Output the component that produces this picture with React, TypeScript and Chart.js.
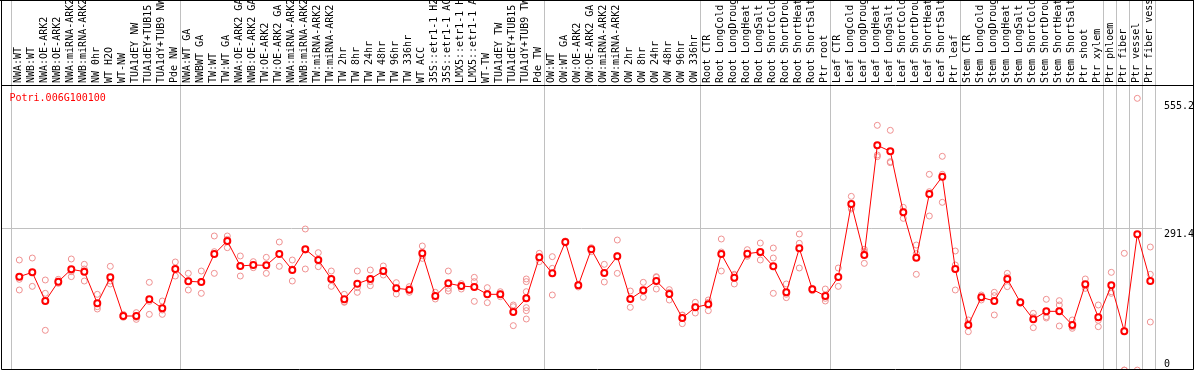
import React, { useEffect, useRef } from "react";
import { Chart, registerables } from "chart.js";

Chart.register(...registerables);

const geneId = "Potri.006G100100";

const categories: string[] = [
  "NWA:WT", "NWB:WT", "NWA:OE-ARK2", "NWB:OE-ARK2", "NWA:miRNA-ARK2", "NWB:miRNA-ARK2",
  "NW 0hr", "WT H2O", "WT-NW", "TUA1dEY NW", "TUA1dEY+TUB15 NW", "TUA1dY+TUB9 NW", "Pde NW",
  "NWA:WT GA", "NWBWT GA", "TW:WT", "TW:WT GA", "NWA:OE-ARK2 GA", "NWB:OE-ARK2 GA",
  "TW:OE-ARK2", "TW:OE-ARK2 GA", "NWA:miRNA-ARK2", "NWB:miRNA-ARK2", "TW:miRNA-ARK2",
  "TW:miRNA-ARK2", "TW 2hr", "TW 8hr", "TW 24hr", "TW 48hr", "TW 96hr", "TW 336hr",
  "WT ACC", "35S::etr1-1 H2O", "35S::etr1-1 ACC", "LMX5::etr1-1 H2O", "LMX5::etr1-1 ACC",
  "WT-TW", "TUA1dEY TW", "TUA1dEY+TUB15 TW", "TUA1dY+TUB9 TW", "Pde TW",
  "OW:WT", "OW:WT GA", "OW:OE-ARK2", "OW:OE-ARK2 GA", "OW:miRNA-ARK2", "OW:miRNA-ARK2",
  "OW 2hr", "OW 8hr", "OW 24hr", "OW 48hr", "OW 96hr", "OW 336hr",
  "Root CTR", "Root LongCold", "Root LongDrought", "Root LongHeat", "Root LongSalt",
  "Root ShortCold", "Root ShortDrought", "Root ShortHeat", "Root ShortSalt", "Ptr root",
  "Leaf CTR", "Leaf LongCold", "Leaf LongDrought", "Leaf LongHeat", "Leaf LongSalt",
  "Leaf ShortCold", "Leaf ShortDrought", "Leaf ShortHeat", "Leaf ShortSalt", "Ptr leaf",
  "Stem CTR", "Stem LongCold", "Stem LongDrought", "Stem LongHeat", "Stem LongSalt",
  "Stem ShortCold", "Stem ShortDrought", "Stem ShortHeat", "Stem ShortSalt", "Ptr shoot",
  "Ptr xylem", "Ptr phloem", "Ptr fiber", "Ptr vessel", "Ptr fiber vessel",
];

const meanValues: number[] = [
  192.6, 201.5, 142.4, 182.3, 207.7, 202.9, 137.6, 191.2, 111.5, 111.5,
  145.9, 127.3, 208.4, 182.9, 181.6, 239.3, 266.1, 214.6, 216.6, 215.9,
  239.3, 206.3, 248.9, 226.9, 187.8, 145.9, 178.1, 187.8, 204.2, 168.5,
  165.8, 240.7, 152.7, 178.8, 173.3, 171.3, 156.2, 156.2, 119.7, 147.9,
  232.4, 199.4, 264.0, 174.7, 248.9, 200.1, 234.5, 146.5, 164.4, 183.6,
  156.8, 107.4, 129.4, 135.5, 239.3, 190.5, 240.0, 243.4, 213.9, 160.3,
  251.0, 166.5, 152.7, 191.9, 342.3, 237.2, 463.2, 450.9, 325.2, 231.7,
  362.9, 398.7, 208.4, 93.0, 150.0, 142.4, 187.8, 139.7, 104.6, 121.1,
  121.1, 93.0, 176.8, 108.8, 174.7, 80.0, 280.0, 183.6,
];

const replicateValues: number[][] = [
  [226.9, 187.1, 165.1], [231.0, 201.5, 172.6], [185.7, 158.2, 82.0], [187.1, 182.3, 178.8],
  [229.0, 202.9, 192.6], [218.0, 208.4, 183.6], [156.2, 130.7, 125.9], [213.9, 183.6, 177.5],
  [114.9, 111.5, 108.8], [118.4, 108.8, 104.6], [180.9, 141.7, 114.9], [142.4, 123.9, 114.9],
  [222.8, 208.4, 193.9], [199.4, 183.6, 165.1], [204.2, 182.3, 158.2], [276.4, 244.1, 199.4],
  [276.4, 269.5, 252.3], [235.2, 214.6, 193.9], [223.5, 216.6, 211.1], [232.4, 215.9, 199.4],
  [264.0, 240.0, 213.9], [226.9, 208.4, 183.6], [290.8, 247.5, 208.4], [242.0, 225.5, 213.2],
  [204.2, 187.8, 172.6], [156.2, 141.0, 139.7], [204.2, 169.9, 160.3], [206.3, 182.3, 174.0],
  [214.6, 202.9, 196.0], [180.2, 168.5, 156.8], [172.0, 165.8, 160.3], [255.8, 235.8, 230.3],
  [160.3, 152.7, 146.5], [204.2, 168.5, 163.0], [178.1, 173.3, 167.1], [191.2, 182.3, 141.7],
  [169.9, 158.2, 139.0], [161.6, 156.2, 151.3], [134.2, 130.7, 91.6],
  [187.8, 182.3, 161.6, 147.9, 128.7, 122.5, 105.3],
  [240.7, 232.4, 223.5], [233.8, 209.7, 154.8], [266.1, 264.0, 261.9], [176.8, 174.7, 171.3],
  [252.3, 248.9, 244.1], [218.0, 200.8, 181.6], [268.1, 235.8, 199.4], [163.0, 147.2, 129.4],
  [180.9, 162.3, 150.0], [192.6, 191.2, 167.1], [165.8, 160.3, 144.5], [113.6, 112.9, 95.7],
  [139.7, 130.7, 117.7], [144.5, 139.7, 122.5], [270.2, 243.4, 204.2], [197.4, 196.0, 177.5],
  [248.2, 237.2, 234.5], [261.9, 241.3, 226.9], [251.6, 231.0, 158.2], [177.5, 156.2, 149.3],
  [280.5, 261.3, 210.4], [168.5, 166.5, 163.7], [167.1, 147.9, 142.4], [210.4, 192.6, 172.6],
  [358.1, 334.8, 332.0], [248.9, 244.1, 220.0], [504.5, 443.3, 439.9], [494.2, 429.6, 427.5],
  [335.5, 327.2, 312.8], [257.8, 240.0, 197.4], [403.5, 367.7, 317.6], [440.6, 403.5, 345.8],
  [245.5, 216.6, 165.1], [103.3, 96.4, 79.2], [154.8, 150.0, 144.5], [160.3, 153.4, 113.6],
  [199.4, 191.9, 172.0], [141.0, 139.7, 137.6], [117.0, 109.4, 87.5], [145.9, 110.1, 107.4],
  [143.1, 134.2, 90.9], [103.3, 89.5, 86.1], [187.8, 174.0, 168.5], [134.2, 102.6, 89.5],
  [201.5, 161.6, 158.2], [240.7, 0, 0], [560.1, 0], [253.7, 197.4, 99.1],
];

const groupStarts: number[] = [0, 13, 41, 53, 63, 73, 84, 85, 86, 87, 88];
const yTickLabels: string[] = ["555.2", "291.4", "0"];
const yTickValues: number[] = [555.2, 291.4, 0];
const yGridValues: number[] = [291.4];

// layout (pixels)
const W = 1194;
const H = 380;
const AREA_TOP = 85;
const AREA_BOTTOM = 370.1;
const STEP = 13;
const FIRST_X = 19.3;
const X_MIN = -FIRST_X / STEP;
const X_MAX = X_MIN + W / STEP;
const Y_MAX = 587.6;
const FRAME_BOTTOM = 369.5;
const FRAME_LEFT = 1.5;
const FRAME_RIGHT = 1193.5;
const MONO = '"DejaVu Sans Mono", monospace';

const decorPlugin = {
  id: "decor",
  beforeDatasetsDraw(chart: any) {
    const ctx = chart.ctx as CanvasRenderingContext2D;
    const xs = chart.scales.x;
    const ys = chart.scales.y;
    ctx.save();
    ctx.strokeStyle = "#c0c0c0";
    ctx.lineWidth = 1;
    for (const g of groupStarts) {
      const x = Math.floor(xs.getPixelForValue(g - 0.62)) + 0.5;
      ctx.beginPath();
      ctx.moveTo(x, 0);
      ctx.lineTo(x, FRAME_BOTTOM);
      ctx.stroke();
    }
    for (const v of yGridValues) {
      const y = Math.floor(ys.getPixelForValue(v)) + 0.5;
      ctx.beginPath();
      ctx.moveTo(FRAME_LEFT, y);
      ctx.lineTo(1162, y);
      ctx.stroke();
    }
    ctx.restore();
  },
  afterDatasetsDraw(chart: any) {
    const ctx = chart.ctx as CanvasRenderingContext2D;
    const xs = chart.scales.x;
    const ys = chart.scales.y;
    ctx.save();
    // category labels (rotated)
    ctx.fillStyle = "#000";
    ctx.font = `10px ${MONO}`;
    ctx.textAlign = "left";
    ctx.textBaseline = "alphabetic";
    categories.forEach((c, i) => {
      const x = xs.getPixelForValue(i) + 1.5;
      ctx.save();
      ctx.translate(x, 83);
      ctx.rotate(-Math.PI / 2);
      ctx.fillText(c, 0, 0);
      ctx.restore();
    });
    // title
    ctx.fillStyle = "#ff0000";
    ctx.fillText(geneId, 9.5, 101);
    // y tick labels
    ctx.fillStyle = "#000";
    yTickValues.forEach((v, i) => {
      const y = Math.min(ys.getPixelForValue(v) + 8.5, 366.6);
      ctx.fillText(yTickLabels[i], 1164, y);
    });
    // frame
    ctx.strokeStyle = "#000";
    ctx.lineWidth = 1;
    ctx.beginPath();
    ctx.moveTo(0, 0.5);
    ctx.lineTo(W, 0.5);
    ctx.moveTo(FRAME_LEFT, 85.5);
    ctx.lineTo(FRAME_RIGHT, 85.5);
    ctx.moveTo(FRAME_LEFT, FRAME_BOTTOM);
    ctx.lineTo(FRAME_RIGHT, FRAME_BOTTOM);
    ctx.moveTo(FRAME_LEFT, 0);
    ctx.lineTo(FRAME_LEFT, FRAME_BOTTOM);
    ctx.moveTo(FRAME_RIGHT, 0);
    ctx.lineTo(FRAME_RIGHT, FRAME_BOTTOM);
    ctx.stroke();
    ctx.restore();
  },
};

export default function App() {
  const canvasRef = useRef<HTMLCanvasElement | null>(null);

  useEffect(() => {
    if (!canvasRef.current) return;
    const meanPoints = meanValues.map((v, i) => ({ x: i, y: v }));
    const repPoints = replicateValues.flatMap((arr, i) => arr.map((v) => ({ x: i, y: v })));
    const chart = new Chart(canvasRef.current, {
      type: "scatter",
      data: {
        datasets: [
          {
            type: "line",
            label: "mean",
            data: meanPoints,
            borderColor: "#ff0000",
            borderWidth: 1,
            pointRadius: 3,
            pointBorderWidth: 2,
            pointBorderColor: "#ff0000",
            pointBackgroundColor: "#ffffff",
            tension: 0,
            fill: false,
            clip: false,
          } as any,
          {
            type: "scatter",
            label: "replicates",
            data: repPoints,
            showLine: false,
            pointRadius: 3,
            pointBorderWidth: 1,
            pointBorderColor: "#ef9090",
            pointBackgroundColor: "rgba(0,0,0,0)",
            clip: false,
          } as any,
        ],
      },
      options: {
        animation: false,
        responsive: false,
        devicePixelRatio: 1,
        events: [],
        layout: {
          autoPadding: false,
          padding: { left: 0, right: 0, top: AREA_TOP, bottom: H - AREA_BOTTOM },
        },
        plugins: { legend: { display: false }, tooltip: { enabled: false }, title: { display: false } },
        scales: {
          x: { type: "linear", min: X_MIN, max: X_MAX, display: false },
          y: { type: "linear", min: 0, max: Y_MAX, display: false },
        },
      },
      plugins: [decorPlugin],
    });
    return () => chart.destroy();
  }, []);

  return (
    <div style={{ position: "absolute", left: 0, top: 0, width: W, height: H, background: "#fff" }}>
      <canvas ref={canvasRef} width={W} height={H} style={{ display: "block" }} />
    </div>
  );
}
